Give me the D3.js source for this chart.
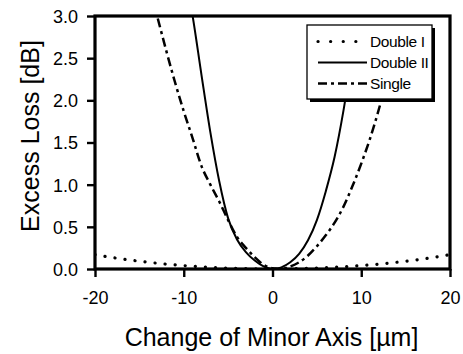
<!DOCTYPE html>
<html>
<head>
<meta charset="utf-8">
<script src="https://cdn.jsdelivr.net/npm/d3@7"></script>
<style>
  html, body { margin: 0; padding: 0; background: #fff; }
  svg { display: block; font-family: "Liberation Sans", Arial, Helvetica, sans-serif; }
</style>
</head>
<body>
<svg id="chart" width="463" height="354"></svg>
<script>
// Excess loss versus change of the minor axis, three coupler designs
const doubleIX = [-20, -18, -16, -14, -12, -10, -8, -6, -4, -2, 0, 2, 4, 6, 8, 10, 12, 14, 16, 18, 20];
const doubleIY = [0.17, 0.135, 0.105, 0.08, 0.058, 0.04, 0.026, 0.015, 0.007, 0.002, 0, 0.002, 0.007, 0.015, 0.026, 0.04, 0.058, 0.08, 0.105, 0.135, 0.17];

const doubleIIX = [-9.5, -9, -8, -7, -6, -5, -4, -3, -2, -1, 0, 1, 2, 3, 4, 5, 6, 7, 8, 9];
const doubleIIY = [3.3, 3.0, 2.3, 1.62, 1.04, 0.6, 0.35, 0.2, 0.1, 0.03, 0, 0.02, 0.08, 0.18, 0.34, 0.58, 0.92, 1.33, 1.88, 2.55];

const singleX = [-13.5, -13, -12, -11, -10, -9, -8, -7, -6, -5, -4, -3, -2, -1, 0, 1, 2, 3, 4, 5, 6, 7, 8, 9, 10, 11, 12, 13, 14];
const singleY = [3.2, 3.0, 2.6, 2.22, 1.87, 1.55, 1.22, 1.0, 0.8, 0.58, 0.38, 0.25, 0.14, 0.05, 0.01, 0, 0.03, 0.08, 0.16, 0.27, 0.4, 0.55, 0.74, 0.98, 1.25, 1.55, 1.9, 2.3, 2.75];

const seriesNames = ["Double I", "Double II", "Single"];
const xTicks = [-20, -10, 0, 10, 20];
const yTicks = [0, 0.5, 1.0, 1.5, 2.0, 2.5, 3.0];
const xTitle = "Change of Minor Axis [\u00b5m]";
const yTitle = "Excess Loss [dB]";

const svg = d3.select("#chart");
const plotLeft = 95, plotRight = 450, plotTop = 16, plotBottom = 269;

const x = d3.scaleLinear().domain([-20, 20]).range([plotLeft, plotRight]);
const y = d3.scaleLinear().domain([0, 3]).range([plotBottom, plotTop]);

const styles = [
  { dash: "0.1,10", width: 3.2, cap: "round" },
  { dash: null, width: 2, cap: "butt" },
  { dash: "9,4,3,4", width: 2.5, cap: "butt" }
];

const series = [
  d3.zip(doubleIX, doubleIY),
  d3.zip(doubleIIX, doubleIIY),
  d3.zip(singleX, singleY)
];

svg.append("defs").append("clipPath").attr("id", "plot-clip")
  .append("rect").attr("x", plotLeft).attr("y", plotTop)
  .attr("width", plotRight - plotLeft).attr("height", plotBottom - plotTop);

const line = d3.line()
  .x(d => x(d[0])).y(d => y(d[1]))
  .curve(d3.curveMonotoneX);

const plot = svg.append("g").attr("clip-path", "url(#plot-clip)");
series.forEach((data, i) => {
  plot.append("path")
    .attr("d", line(data))
    .attr("fill", "none")
    .attr("stroke", "#000")
    .attr("stroke-width", styles[i].width)
    .attr("stroke-linecap", styles[i].cap)
    .attr("stroke-dasharray", styles[i].dash);
});

// Axes with outward ticks; plain hyphen for negative labels
const xAxis = svg.append("g").attr("transform", `translate(0,${plotBottom})`)
  .call(d3.axisBottom(x).tickValues(xTicks).tickSize(8).tickPadding(8).tickFormat(d => String(d)));
const yAxis = svg.append("g").attr("transform", `translate(${plotLeft},0)`)
  .call(d3.axisLeft(y).tickValues(yTicks).tickSize(8).tickPadding(9).tickFormat(d => d.toFixed(1)));

[xAxis, yAxis].forEach(g => {
  g.select(".domain").remove();
  g.selectAll(".tick line").attr("stroke", "#000").attr("stroke-width", 2.4);
  g.selectAll(".tick text").attr("fill", "#000").style("font-size", "18px");
});
xAxis.selectAll(".tick text").attr("dy", null).attr("y", 35);
yAxis.selectAll(".tick text").attr("dy", "0.36em");

// Plot frame
svg.append("rect")
  .attr("x", plotLeft).attr("y", plotTop)
  .attr("width", plotRight - plotLeft).attr("height", plotBottom - plotTop)
  .attr("fill", "none").attr("stroke", "#000").attr("stroke-width", 3.2);

// Axis titles
svg.append("text")
  .attr("x", (plotLeft + plotRight) / 2 - 1).attr("y", 346)
  .attr("text-anchor", "middle")
  .style("font-size", "25px")
  .text(xTitle);

svg.append("text")
  .attr("transform", `translate(39,136) rotate(-90)`)
  .attr("text-anchor", "middle")
  .style("font-size", "25px")
  .text(yTitle);

// Legend with drop shadow
const lg = svg.append("g");
const lx = 307, ly = 25, lw = 125, lh = 74;
lg.append("rect").attr("x", lx + 3).attr("y", ly + 3).attr("width", lw).attr("height", lh).attr("fill", "#000");
lg.append("rect").attr("x", lx).attr("y", ly).attr("width", lw).attr("height", lh)
  .attr("fill", "#fff").attr("stroke", "#000").attr("stroke-width", 1.3);

seriesNames.forEach((name, i) => {
  const baseline = 47 + i * 21;
  const ym = baseline - 5.5;
  lg.append("line")
    .attr("x1", 318).attr("x2", 367).attr("y1", ym).attr("y2", ym)
    .attr("stroke", "#000")
    .attr("stroke-width", styles[i].width)
    .attr("stroke-linecap", styles[i].cap)
    .attr("stroke-dasharray", i === 0 ? "0.1,12.5" : styles[i].dash);
  lg.append("text")
    .attr("x", 370).attr("y", baseline)
    .style("font-size", "15.5px")
    .style("letter-spacing", "-0.4px")
    .text(name);
});
</script>
</body>
</html>
